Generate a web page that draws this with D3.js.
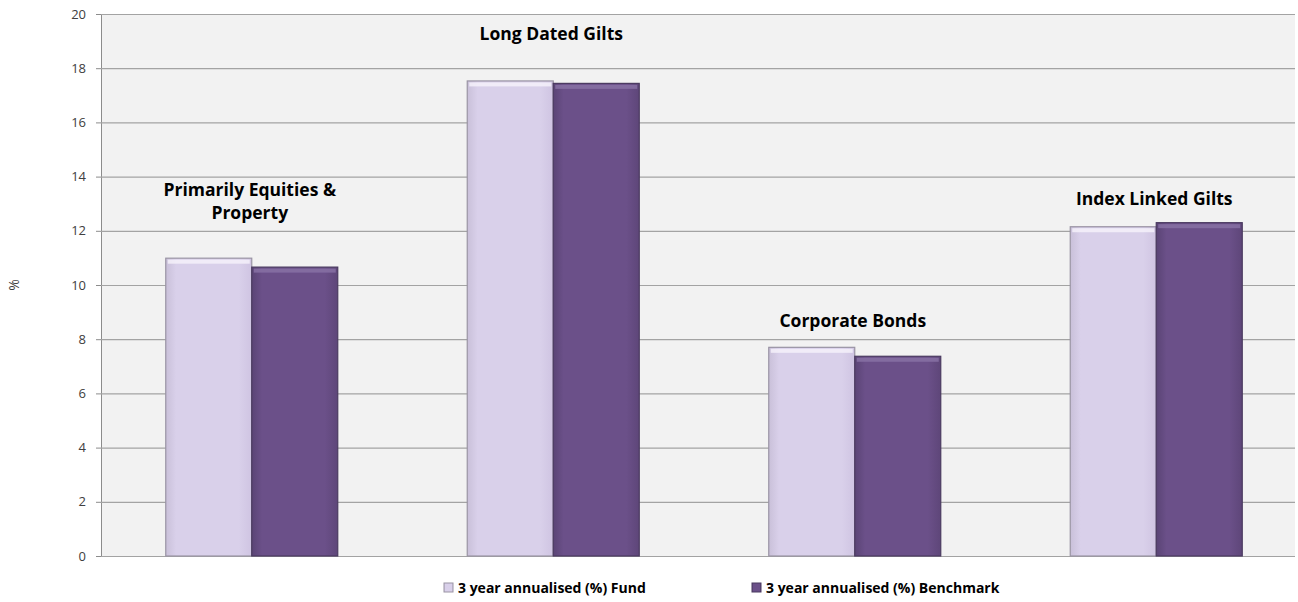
<!DOCTYPE html>
<html>
<head>
<meta charset="utf-8">
<title>3 year annualised returns</title>
<script src="https://cdn.jsdelivr.net/npm/d3@7/dist/d3.min.js"></script>
<style>
  body { margin: 0; background: #fff; }
  svg { display: block; font-family: "Open Sans", "DejaVu Sans", sans-serif; }
</style>
</head>
<body>
<div id="chart"></div>
<script>
// data
var categories = ["Primarily Equities & Property", "Long Dated Gilts", "Corporate Bonds", "Index Linked Gilts"];
var labelLines = [["Primarily Equities &", "Property"], ["Long Dated Gilts"], ["Corporate Bonds"], ["Index Linked Gilts"]];
var seriesNames = ["3 year annualised (%) Fund", "3 year annualised (%) Benchmark"];
var fundValues = [10.99, 17.53, 7.70, 12.15];
var benchValues = [10.66, 17.44, 7.37, 12.30];
var yTicks = [0, 2, 4, 6, 8, 10, 12, 14, 16, 18, 20];

// where the category labels sit, in value units
var labelAt = [13.3, 19.05, 8.45, 12.95];

var W = 1298, H = 602;
var plot = {left: 101, right: 1295, top: 14, bottom: 556};

var svg = d3.select("#chart").append("svg")
  .attr("width", W).attr("height", H);

var defs = svg.append("defs");
function glass(id, c0, c1, c2) {
  var g = defs.append("linearGradient").attr("id", id)
    .attr("x1", 0).attr("x2", 1).attr("y1", 0).attr("y2", 0);
  g.append("stop").attr("offset", "0%").attr("stop-color", c0);
  g.append("stop").attr("offset", "12%").attr("stop-color", c1);
  g.append("stop").attr("offset", "85%").attr("stop-color", c1);
  g.append("stop").attr("offset", "100%").attr("stop-color", c2);
}
glass("gFund", "#c9c0d9", "#d9d0ea", "#cfc4e2");
glass("gBench", "#5a4475", "#6b5089", "#5e4679");

var x = d3.scaleBand().domain(categories).range([plot.left, plot.left + 4 * 301.5]).paddingInner(0).paddingOuter(0);
var x1 = d3.scaleBand().domain(seriesNames).range([0, 172]);
var y = d3.scaleLinear().domain([0, 20]).range([plot.bottom, plot.top]);

// plot background
svg.append("rect")
  .attr("x", plot.left).attr("y", plot.top)
  .attr("width", plot.right - plot.left).attr("height", plot.bottom - plot.top)
  .attr("fill", "#f2f2f2");

// gridlines + y axis
var yAxis = svg.append("g")
  .attr("transform", "translate(" + plot.left + ",0)")
  .call(d3.axisLeft(y).tickValues(yTicks).tickSize(5).tickPadding(10));
yAxis.select(".domain").attr("stroke", "#8c8c8c");
yAxis.selectAll(".tick line").attr("stroke", "#8c8c8c");
yAxis.selectAll(".tick text").attr("fill", "#404040").attr("font-size", 13)
  .attr("font-family", "'Open Sans', sans-serif");

svg.append("g").selectAll("line")
  .data(yTicks)
  .enter().append("line")
  .attr("x1", plot.left).attr("x2", plot.right)
  .attr("y1", function(d) { return y(d) + 0.5; })
  .attr("y2", function(d) { return y(d) + 0.5; })
  .attr("stroke", "#a3a3a3").attr("stroke-width", 1.2);

svg.append("text")
  .attr("transform", "translate(19," + ((plot.top + plot.bottom) / 2) + ") rotate(-90)")
  .attr("text-anchor", "middle")
  .attr("font-size", 14).attr("fill", "#404040")
  .text("%");

// bars
var rows = categories.map(function(c, i) {
  return {cat: c, i: i, vals: [
    {s: seriesNames[0], v: fundValues[i]},
    {s: seriesNames[1], v: benchValues[i]}
  ]};
});
var fills = ["url(#gFund)", "url(#gBench)"];
var strokes = ["#9a94a4", "#4a3a60"];
var tops = ["#f6f2fb", "#8a73a6"];

var groups = svg.append("g").selectAll("g")
  .data(rows).enter().append("g")
  .attr("transform", function(d) { return "translate(" + (x(d.cat) + x.bandwidth() / 2 - 86) + ",0)"; });

groups.selectAll("rect.bar")
  .data(function(d) { return d.vals; })
  .enter().append("rect")
  .attr("class", "bar")
  .attr("x", function(d) { return x1(d.s); })
  .attr("y", function(d) { return y(d.v); })
  .attr("width", x1.bandwidth())
  .attr("height", function(d) { return y(0) - y(d.v); })
  .attr("fill", function(d, j) { return fills[j]; })
  .attr("stroke", function(d, j) { return strokes[j]; })
  .attr("stroke-width", 1.2);

// glossy cap on top of each bar
groups.selectAll("rect.cap")
  .data(function(d) { return d.vals; })
  .enter().append("rect")
  .attr("class", "cap")
  .attr("x", function(d) { return x1(d.s) + 2; })
  .attr("y", function(d) { return y(d.v) + 1.5; })
  .attr("width", x1.bandwidth() - 4)
  .attr("height", 4)
  .attr("fill", function(d, j) { return tops[j]; })
  .attr("opacity", 0.8);

// category labels
var lab = svg.append("g").selectAll("text")
  .data(rows).enter().append("text")
  .attr("text-anchor", "middle")
  .attr("font-size", 17.5).attr("font-weight", "bold").attr("fill", "#000")
  .attr("x", function(d) { return x(d.cat) + x.bandwidth() / 2 - 2; })
  .attr("y", function(d) { return y(labelAt[d.i]); });
lab.selectAll("tspan")
  .data(function(d) { return labelLines[d.i].map(function(t, k) { return {t: t, k: k}; }); })
  .enter().append("tspan")
  .attr("x", function() { return d3.select(this.parentNode).attr("x"); })
  .attr("dy", function(d) { return d.k ? 23 : 0; })
  .text(function(d) { return d.t; });

// legend
var legX = [444, 752];
var leg = svg.append("g").selectAll("g")
  .data(seriesNames).enter().append("g")
  .attr("transform", function(d, i) { return "translate(" + legX[i] + ",583)"; });
leg.append("rect")
  .attr("width", 9).attr("height", 9)
  .attr("fill", function(d, i) { return fills[i]; })
  .attr("stroke", function(d, i) { return strokes[i]; });
leg.append("text")
  .attr("x", 14).attr("y", 10)
  .attr("font-size", 14).attr("font-weight", "bold").attr("fill", "#000")
  .text(function(d) { return d; });
</script>
</body>
</html>
